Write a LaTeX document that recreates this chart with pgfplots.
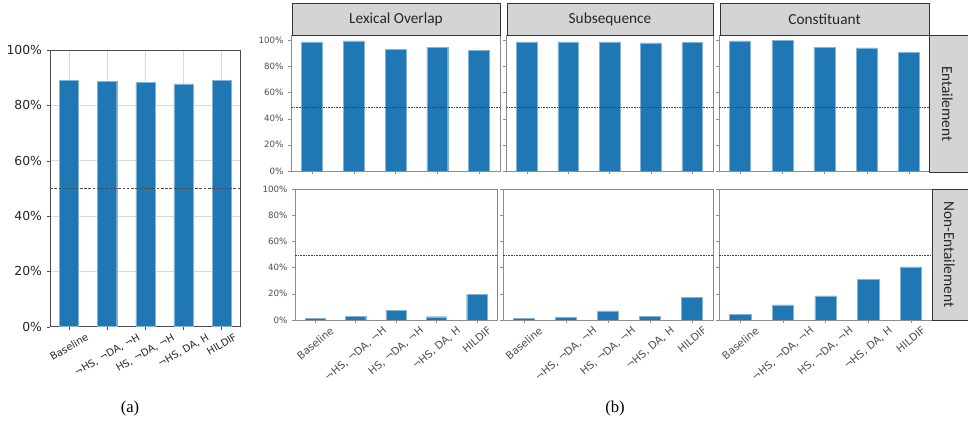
\documentclass[border=0pt]{standalone}
\usepackage{pgfplots}
\pgfplotsset{compat=1.18}
\usepackage{fontspec}
\setmainfont{DejaVu Sans}
\newfontfamily\carlito{Carlito}
\newfontfamily\serifcap{Liberation Serif}
\definecolor{tabblue}{RGB}{31,119,180}
\definecolor{stripgray}{RGB}{212,212,212}
\newcommand{\ra}[1]{\rotatebox{30}{#1}}
\newcommand{\rb}[1]{\rotatebox{40}{#1}}
\pgfplotsset{
  common/.style={scale only axis, anchor=south west, xmin=-0.5, xmax=4.5,
    xtick={0,...,4}, tick align=outside, major tick length=2.25pt, tick pos=left,
    axis line style={black!45}, tick style={black!45},
    /pgf/number format/assume math mode=true,
    ticklabel style={font=\fontsize{6.5}{7}\selectfont, text=black!70}},
  toprow/.style={common, ymin=0, ymax=104, ytick={0,20,...,100}, xticklabels={}, height=102pt},
  botrow/.style={common, ymin=0, ymax=100, ytick={0,20,...,100}, height=98.25pt,
    xticklabels={\rb{Baseline},\rb{¬HS, ¬DA, ¬H},\rb{HS, ¬DA, ¬H},\rb{¬HS, DA, H},\rb{HILDIF}},
    x tick label style={font=\fontsize{7.8}{8}\selectfont, anchor=north, inner sep=2pt}},
  ylab/.style={yticklabels={0\%,20\%,40\%,60\%,80\%,100\%}},
  noylab/.style={yticklabels={}},
  bars/.style={ybar, bar width=0.5, fill=tabblue, draw=tabblue!55!white, line width=0.3pt},
  chance/.style={black!75, line width=0.5pt, dash pattern=on 1.2pt off 0.8pt},
}
\begin{document}
\begin{tikzpicture}
\useasboundingbox (0,0) rectangle (726pt,318.75pt);

% ---------- (a) ----------
\begin{axis}[scale only axis, anchor=south west, at={(37.5pt,73.75pt)}, width=143pt, height=207.5pt,
  xmin=-0.5, xmax=4.5, ymin=0, ymax=100, xtick={0,...,4}, ytick={0,20,...,100},
  yticklabels={0\%,20\%,40\%,60\%,80\%,100\%},
  xticklabels={\ra{Baseline},\ra{¬HS, ¬DA, ¬H},\ra{HS, ¬DA, ¬H},\ra{¬HS, DA, H},\ra{HILDIF}},
  grid=major, grid style={black!15, line width=0.5pt},
  tick align=outside, major tick length=2.5pt, tick pos=left,
  axis line style={black!70}, tick style={black!70},
  /pgf/number format/assume math mode=true,
  y tick label style={font=\fontsize{9.3}{10}\selectfont, text=black!85},
  x tick label style={font=\fontsize{7.5}{8}\selectfont, text=black!85, anchor=north, inner sep=2pt}]
\addplot[bars] coordinates {(0,89.0) (1,88.6) (2,88.3) (3,87.8) (4,89.0)};
\addplot[black!70, line width=0.5pt, dash pattern=on 2pt off 1.2pt] coordinates {(-0.5,50) (4.5,50)};
\end{axis}

% ---------- (b) top row ----------
\begin{axis}[toprow, ylab, at={(218.25pt,190.5pt)}, width=156.75pt]
\addplot[bars] coordinates {(0,98.7) (1,99.5) (2,93.1) (3,94.4) (4,92.1)};
\addplot[chance] coordinates {(-0.5,49) (4.5,49)};
\end{axis}
\begin{axis}[toprow, noylab, at={(379.5pt,190.5pt)}, width=155.25pt]
\addplot[bars] coordinates {(0,98.7) (1,98.7) (2,98.7) (3,97.9) (4,98.2)};
\addplot[chance] coordinates {(-0.5,49) (4.5,49)};
\end{axis}
\begin{axis}[toprow, noylab, at={(539.25pt,190.5pt)}, width=158.25pt]
\addplot[bars] coordinates {(0,99.5) (1,100) (2,94.6) (3,94.1) (4,90.8)};
\addplot[chance] coordinates {(-0.5,49) (4.5,49)};
\end{axis}

% ---------- (b) bottom row ----------
\begin{axis}[botrow, ylab, at={(221.25pt,78.75pt)}, width=151.5pt]
\addplot[bars] coordinates {(0,1.0) (1,3.0) (2,7.5) (3,2.5) (4,19.5)};
\addplot[chance] coordinates {(-0.5,49) (4.5,49)};
\end{axis}
\begin{axis}[botrow, noylab, at={(377.25pt,78.75pt)}, width=157.5pt]
\addplot[bars] coordinates {(0,1.0) (1,1.8) (2,7.0) (3,3.0) (4,17.5)};
\addplot[chance] coordinates {(-0.5,49) (4.5,49)};
\end{axis}
\begin{axis}[botrow, noylab, at={(539.25pt,78.75pt)}, width=159.75pt]
\addplot[bars] coordinates {(0,4.5) (1,11.5) (2,18.5) (3,31) (4,40.5)};
\addplot[chance] coordinates {(-0.5,49) (4.5,49)};
\end{axis}

% ---------- strips ----------
\begin{scope}[every node/.style={font=\carlito\fontsize{11.5}{13}\selectfont, text=black!85}]
\draw[fill=stripgray, draw=black!80, line width=0.7pt] (219pt,292.5pt) rectangle (375pt,316.5pt);
\draw[fill=stripgray, draw=black!80, line width=0.7pt] (380.25pt,292.5pt) rectangle (534.75pt,316.5pt);
\draw[fill=stripgray, draw=black!80, line width=0.7pt] (540pt,292.5pt) rectangle (696.75pt,316.5pt);
\node at (297pt,304.5pt) {Lexical Overlap};
\node at (457.5pt,304.5pt) {Subsequence};
\node at (618.4pt,304.5pt) {Constituant};
\draw[fill=stripgray, draw=black!80, line width=0.7pt] (696.75pt,189.75pt) rectangle (740pt,292.5pt);
\draw[fill=stripgray, draw=black!80, line width=0.7pt] (699pt,78.75pt) rectangle (740pt,177pt);
\node[rotate=-90] at (710.5pt,241pt) {Entailement};
\node[rotate=-90] at (712pt,128pt) {Non-Entailement};
\end{scope}

% ---------- captions ----------
\node[font=\serifcap\fontsize{12.5}{14}\selectfont] at (97.5pt,12.75pt) {(a)};
\node[font=\serifcap\fontsize{12.5}{14}\selectfont] at (461.25pt,12.75pt) {(b)};
\end{tikzpicture}
\end{document}
